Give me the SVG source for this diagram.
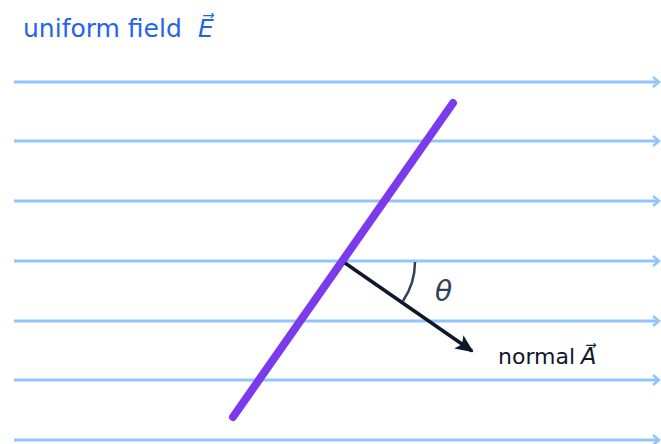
<svg xmlns="http://www.w3.org/2000/svg" width="661" height="444" viewBox="0 0 661 444">
<style>
.field{stroke:#93c5fd;stroke-width:3;fill:none}
.lbl{font-family:"DejaVu Sans",sans-serif}
</style>
<defs>
<marker id="fh" markerWidth="10" markerHeight="12" refX="8" refY="6" orient="auto" markerUnits="userSpaceOnUse">
<path d="M2,1 L8,6 L2,11" fill="none" stroke="#93c5fd" stroke-width="2.5"/>
</marker>
<marker id="nh" markerWidth="20" markerHeight="16" refX="16" refY="8" orient="auto" markerUnits="userSpaceOnUse">
<path d="M0,0 L18,8 L0,16 L4,8 Z" fill="#0f172a"/>
</marker>
</defs>
<rect width="661" height="444" fill="#ffffff"/>
<g id="connectors">
<line class="field" x1="14" y1="82" x2="659" y2="82" marker-end="url(#fh)"/>
<line class="field" x1="14" y1="141" x2="659" y2="141" marker-end="url(#fh)"/>
<line class="field" x1="14" y1="201" x2="659" y2="201" marker-end="url(#fh)"/>
<line class="field" x1="14" y1="261" x2="659" y2="261" marker-end="url(#fh)"/>
<line class="field" x1="14" y1="321" x2="659" y2="321" marker-end="url(#fh)"/>
<line class="field" x1="14" y1="380" x2="659" y2="380" marker-end="url(#fh)"/>
<line class="field" x1="14" y1="440" x2="659" y2="440" marker-end="url(#fh)"/>
</g>
<g id="plate">
<line x1="233" y1="417" x2="453" y2="103" stroke="#7c3aed" stroke-width="8" stroke-linecap="round"/>
</g>
<g id="normal">
<line x1="345" y1="263" x2="472" y2="351" stroke="#0f172a" stroke-width="3.5" marker-end="url(#nh)"/>
</g>
<g id="angle">
<path d="M415,262 A70,70 0 0 1 403,301" fill="none" stroke="#334155" stroke-width="2.5"/>
<text class="lbl" x="435" y="301" font-size="28" font-style="italic" fill="#334155">θ</text>
</g>
<g id="labels">
<text class="lbl" x="23" y="37" font-size="25" fill="#2563eb">uniform field</text>
<text class="lbl" x="198" y="37" font-size="25" font-style="italic" fill="#2563eb">E⃗</text>
<text class="lbl" x="498" y="364" font-size="22" fill="#0f172a">normal</text>
<text class="lbl" x="581" y="364" font-size="22.5" font-style="italic" fill="#0f172a">A⃗</text>
</g>
</svg>
